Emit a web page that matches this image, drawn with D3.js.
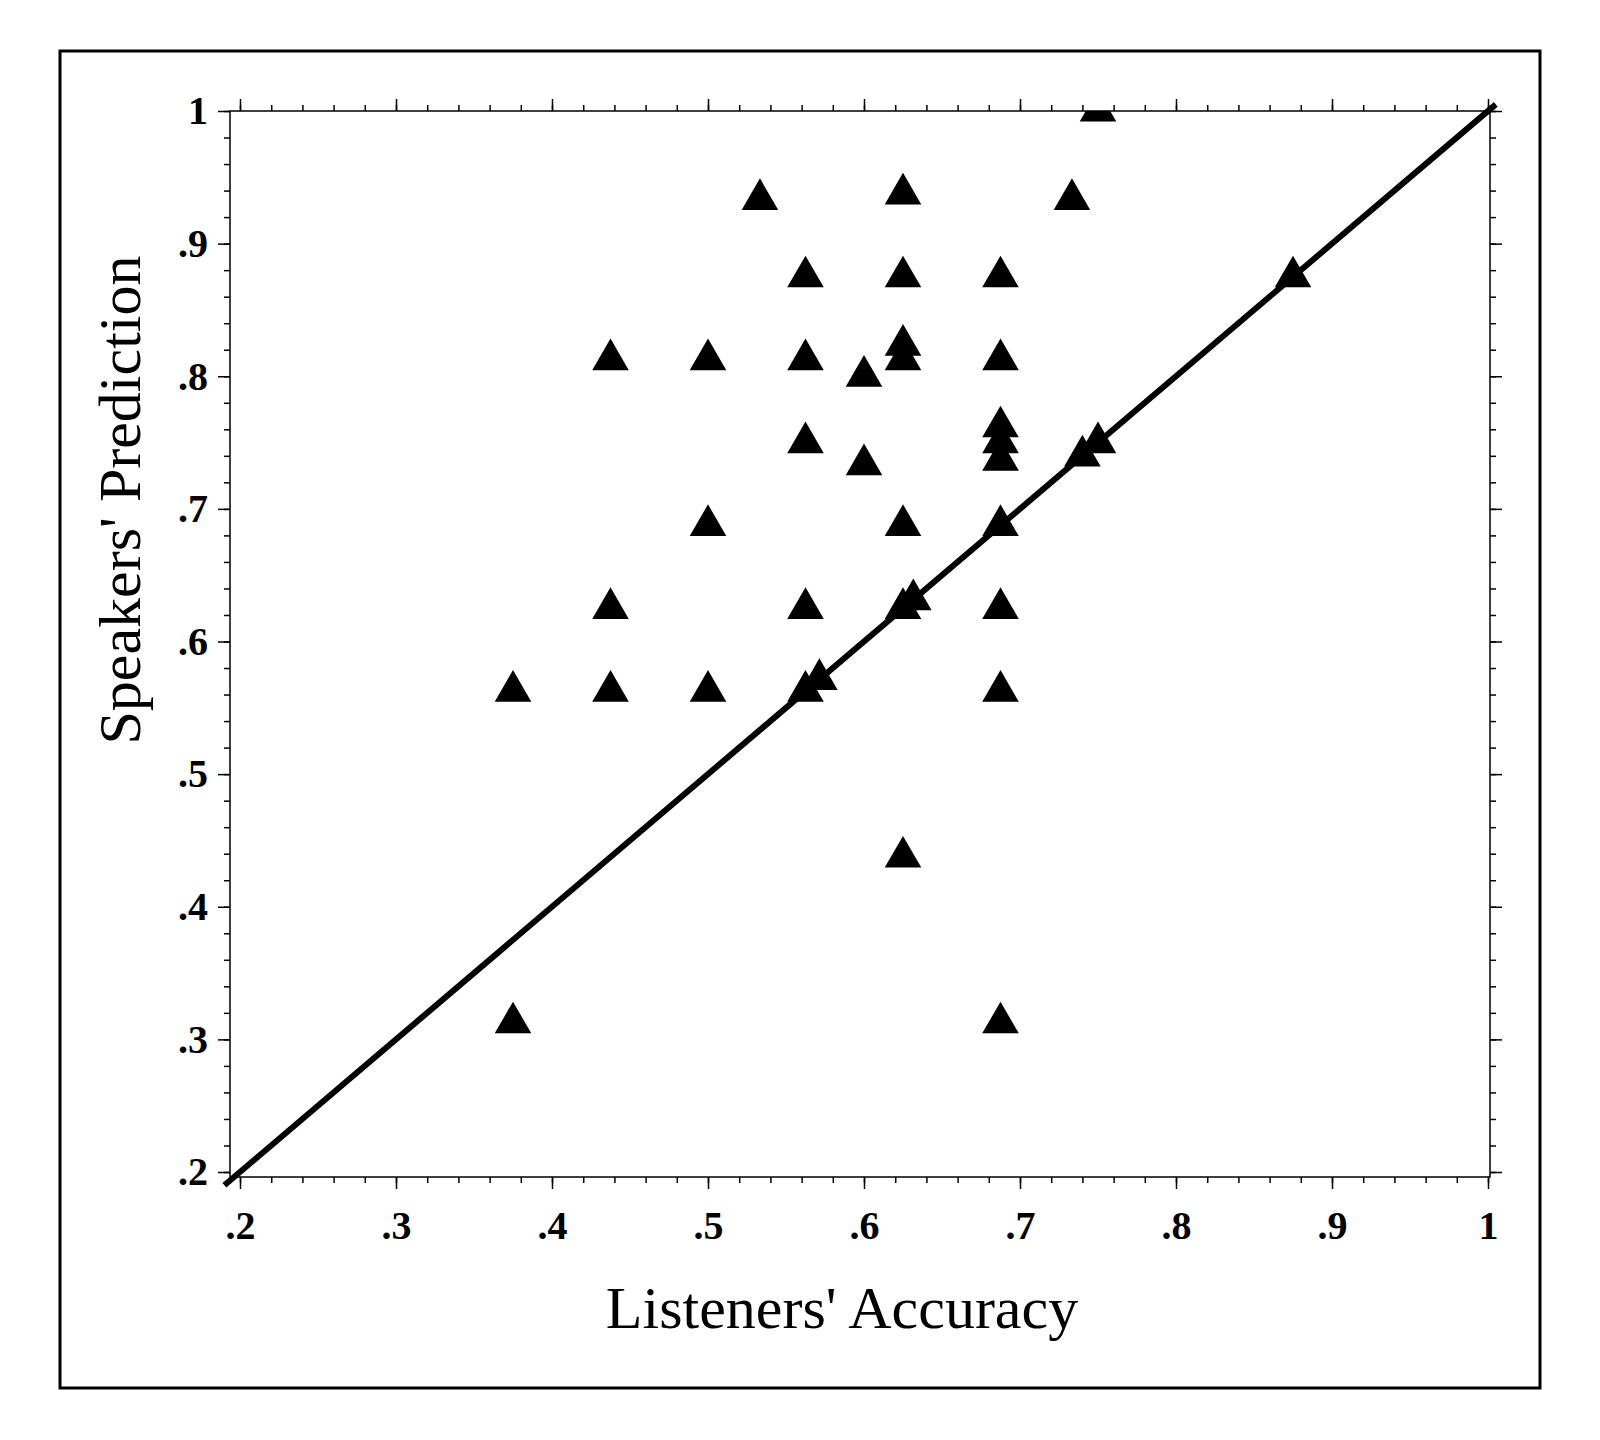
<!DOCTYPE html>
<html>
<head>
<meta charset="utf-8">
<script src="https://cdn.jsdelivr.net/npm/d3@7"></script>
<style>
  body { margin: 0; background: #fff; }
  svg { display: block; }
</style>
</head>
<body>
<div id="chart"></div>
<script>
/**
 * Listeners' accuracy (x) against speakers' prediction (y), one triangle per speaker
 */
const listenersAccuracy = [
    0.375, 0.375, 0.4375, 0.4375, 0.4375, 0.5, 0.5, 0.5, 0.5333,
    0.5625, 0.5625, 0.5625, 0.5625, 0.5625, 0.5714, 0.6, 0.6,
    0.625, 0.625, 0.625, 0.625, 0.625, 0.625, 0.6316, 0.625,
    0.6875, 0.6875, 0.6875, 0.6875, 0.6875, 0.6875, 0.6875, 0.6875, 0.6875,
    0.7333, 0.74, 0.75, 0.75, 0.875,
];

const speakersPrediction = [
    0.5625, 0.3125, 0.8125, 0.625, 0.5625, 0.8125, 0.6875, 0.5625, 0.9333,
    0.875, 0.8125, 0.75, 0.625, 0.5625, 0.5714, 0.8, 0.7333,
    0.9375, 0.875, 0.8235, 0.8125, 0.6875, 0.625, 0.6316, 0.4375,
    0.875, 0.8125, 0.7619, 0.75, 0.7368, 0.6875, 0.625, 0.5625, 0.3125,
    0.9333, 0.74, 0.75, 1.0, 0.875,
];

const tickValues = [0.2, 0.3, 0.4, 0.5, 0.6, 0.7, 0.8, 0.9, 1];
const tickLabels = [".2", ".3", ".4", ".5", ".6", ".7", ".8", ".9", "1"];

// Reference line y = x, drawn a little past both ends of the axes
const identityLine = [0.19, 1.005];

const xTitle = "Listeners' Accuracy";
const yTitle = "Speakers' Prediction";

const width = 1600;
const height = 1440;

// plot box as it sits in the scanned figure
const plot = { left: 230, right: 1490, top: 111, bottom: 1177 };

const x = d3.scaleLinear().domain([0.2, 1]).range([240, 1488]);
const y = d3.scaleLinear().domain([0.2, 1]).range([1172, 111]);

const minorTicks = d3.range(0.2, 1.0001, 0.02);
const labelFor = (v) => tickLabels[tickValues.findIndex((t) => Math.abs(t - v) < 1e-6)];

const svg = d3
    .select("#chart")
    .append("svg")
    .attr("width", width)
    .attr("height", height)
    .attr("font-family", "'Liberation Serif', 'Times New Roman', serif");

svg.append("rect").attr("width", width).attr("height", height).attr("fill", "#fff");

// outer frame round the whole figure
svg.append("rect")
    .attr("x", 60)
    .attr("y", 51)
    .attr("width", 1480)
    .attr("height", 1337)
    .attr("fill", "none")
    .attr("stroke", "#000")
    .attr("stroke-width", 3);

svg.append("defs")
    .append("clipPath")
    .attr("id", "plot-clip")
    .append("rect")
    .attr("x", plot.left)
    .attr("y", plot.top)
    .attr("width", plot.right - plot.left)
    .attr("height", plot.bottom - plot.top);

// plot box
svg.append("rect")
    .attr("x", plot.left)
    .attr("y", plot.top)
    .attr("width", plot.right - plot.left)
    .attr("height", plot.bottom - plot.top)
    .attr("fill", "none")
    .attr("stroke", "#000")
    .attr("stroke-width", 1.5);

/**
 * Draw one side of the box: minor ticks every .02, major ticks every .1
 * @param {Function} axisFn - d3 axis generator
 * @param {Function} scale
 * @param {String} transform
 * @param {Boolean} labelled
 */
const drawAxis = (axisFn, scale, transform, labelled) => {
    const g = svg.append("g").attr("transform", transform);

    g.append("g")
        .call(axisFn(scale).tickValues(minorTicks).tickSize(6).tickFormat(""))
        .call((s) => s.select(".domain").remove());

    const major = g
        .append("g")
        .call(
            axisFn(scale)
                .tickValues(tickValues)
                .tickSize(12)
                .tickPadding(10)
                .tickFormat(labelled ? labelFor : ""),
        )
        .call((s) => s.select(".domain").remove());

    g.selectAll("line").attr("stroke", "#000").attr("stroke-width", 1.5);

    major.selectAll("text")
        .attr("font-size", 40)
        .attr("font-weight", "bold")
        .attr("fill", "#000")
        .attr("font-family", "'Liberation Serif', 'Times New Roman', serif");

    return major;
};

drawAxis(d3.axisLeft, y, `translate(${plot.left},0)`, true);
drawAxis(d3.axisRight, y, `translate(${plot.right},0)`, false);
drawAxis(d3.axisTop, x, `translate(0,${plot.top})`, false);
drawAxis(d3.axisBottom, x, `translate(0,${plot.bottom})`, true).selectAll("text").attr("dy", "1em");

// identity line
svg.append("path")
    .datum(identityLine)
    .attr("d", d3.line().x((d) => x(d)).y((d) => y(d)))
    .attr("stroke", "#000")
    .attr("stroke-width", 6)
    .attr("fill", "none");

const points = listenersAccuracy.map((d, i) => ({ x: d, y: speakersPrediction[i] }));

svg.append("g")
    .attr("clip-path", "url(#plot-clip)")
    .selectAll("path")
    .data(points)
    .join("path")
    .attr("d", d3.symbol(d3.symbolTriangle, 580))
    .attr("transform", (d) => `translate(${x(d.x)},${y(d.y)})`)
    .attr("fill", "#000");

svg.append("text")
    .attr("x", 842)
    .attr("y", 1328)
    .attr("text-anchor", "middle")
    .attr("font-size", 60)
    .text(xTitle);

svg.append("text")
    .attr("transform", "translate(140,500) rotate(-90)")
    .attr("text-anchor", "middle")
    .attr("font-size", 60)
    .text(yTitle);
</script>
</body>
</html>
